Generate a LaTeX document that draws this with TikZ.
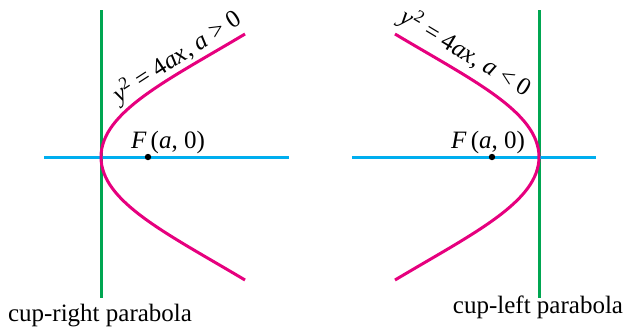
\documentclass[tikz,border=0pt]{standalone}
\usepackage{fontspec}
\setmainfont{Liberation Serif}
\definecolor{dirgreen}{RGB}{0,166,81}
\definecolor{axisblue}{RGB}{0,174,239}
\definecolor{curvemag}{RGB}{230,0,126}

\begin{document}
\begin{tikzpicture}[x=0.5pt, y=-0.5pt,
        dirx/.style={draw=dirgreen, line width=1.5pt},
        axis/.style={draw=axisblue, line width=1.5pt},
        curve/.style={draw=curvemag, line width=1.5pt},
        focus/.style={circle, fill=black, inner sep=0pt, minimum size=3.2pt},
        lbl/.style={font=\fontsize{12.5}{15}\selectfont, inner sep=0pt}]
      \useasboundingbox (0,0) rectangle (626,329);
      % cup-right
      \coordinate (d1top) at (101,10);
      \coordinate (d1bot) at (101,298);
      \coordinate (a1l) at (44,157);
      \coordinate (a1r) at (289,157);
      \coordinate (v1) at (101,157);
      \coordinate (e1top) at (245,34);
      \coordinate (e1bot) at (245,280);
      \draw[dirx] (d1top) -- (d1bot);
      \draw[axis] (a1l) -- (a1r);
      \draw[curve] (e1top) .. controls (168,80) and (101,112) .. (v1)
                   .. controls (101,202) and (168,234) .. (e1bot);
      \node[focus] (f1) at (148,157) {};
      \node[lbl] (f1lab) at (168,142) {\textit{F}\,(\textit{a}, 0)};
      \node[lbl, rotate=33] (eq1) at (177,57)
        {\textit{y}\textsuperscript{2} = 4\textit{ax}, \textit{a} > 0};
      \node[lbl, anchor=base] (cap1) at (100,321) {cup-right parabola};
      % cup-left
      \coordinate (d2top) at (539,10);
      \coordinate (d2bot) at (539,298);
      \coordinate (a2l) at (352,157);
      \coordinate (a2r) at (596,157);
      \coordinate (v2) at (539,157);
      \coordinate (e2top) at (395,34);
      \coordinate (e2bot) at (395,280);
      \draw[dirx] (d2top) -- (d2bot);
      \draw[axis] (a2l) -- (a2r);
      \draw[curve] (e2top) .. controls (472,80) and (539,112) .. (v2)
                   .. controls (539,202) and (472,234) .. (e2bot);
      \node[focus] (f2) at (492,157) {};
      \node[lbl] (f2lab) at (488,142) {\textit{F}\,(\textit{a}, 0)};
      \node[lbl, rotate=-31] (eq2) at (466,53)
        {\textit{y}\textsuperscript{2} = 4\textit{ax}, \textit{a} < 0};
      \node[lbl, anchor=base] (cap2) at (538,313) {cup-left parabola};
    \end{tikzpicture}
\end{document}
